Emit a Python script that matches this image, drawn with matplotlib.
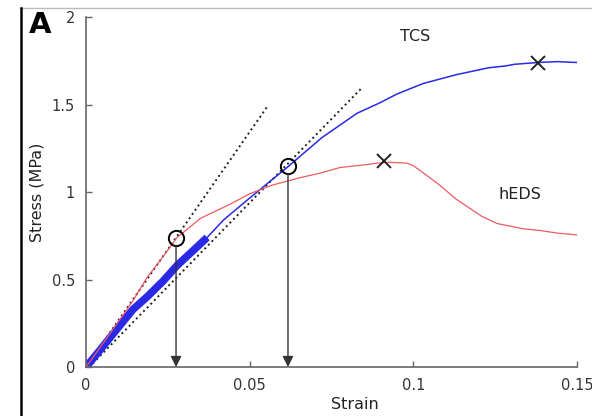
import numpy as np
import matplotlib.pyplot as plt
from matplotlib.lines import Line2D

# TCS curve (blue)
strain_tcs = [0, 0.004, 0.0083, 0.0144, 0.0186, 0.0235, 0.0278, 0.033, 0.037, 0.042, 0.049,
              0.0555, 0.0614, 0.072, 0.0828, 0.0898, 0.095, 0.103, 0.108, 0.113, 0.118,
              0.123, 0.128, 0.131, 0.138, 0.144, 0.15]
stress_tcs = [0, 0.09, 0.19, 0.33, 0.40, 0.49, 0.58, 0.67, 0.74, 0.84, 0.95,
              1.05, 1.14, 1.31, 1.45, 1.51, 1.56, 1.62, 1.645, 1.67, 1.69,
              1.71, 1.72, 1.73, 1.74, 1.745, 1.74]

# hEDS curve (red)
strain_heds = [0, 0.005, 0.0144, 0.0186, 0.0235, 0.0278, 0.035, 0.044, 0.050, 0.057,
               0.065, 0.072, 0.0776, 0.085, 0.089, 0.092, 0.098, 0.100, 0.103, 0.108,
               0.113, 0.117, 0.121, 0.1256, 0.1335, 0.1387, 0.144, 0.15]
stress_heds = [0, 0.13, 0.38, 0.51, 0.63, 0.74, 0.85, 0.93, 0.99, 1.04,
               1.08, 1.11, 1.14, 1.155, 1.165, 1.17, 1.165, 1.15, 1.11, 1.04,
               0.96, 0.91, 0.86, 0.82, 0.79, 0.78, 0.765, 0.755]

# tangent (dotted) lines
tan1_x = [0, 0.0553]
tan1_y = [0, 1.486]
tan2_x = [0.001, 0.084]
tan2_y = [0, 1.59]

# yield points (circles) and failure points (crosses)
yield_x = [0.0275, 0.0617]
yield_y = [0.74, 1.15]
fail_x = [0.138, 0.091]
fail_y = [1.74, 1.18]

fig = plt.figure(figsize=(5.92, 4.16), dpi=100)
ax = fig.add_axes([0.1453, 0.1178, 0.8294, 0.8413])

ax.plot(tan1_x, tan1_y, ':', color='#222222', lw=1.4)
ax.plot(tan2_x, tan2_y, ':', color='#222222', lw=1.4)

# thick noisy start of the TCS curve
ax.plot(strain_tcs[:9], stress_tcs[:9], color='#2a2ae6', lw=5.5, solid_capstyle='butt')
ax.plot(strain_tcs, stress_tcs, color='#2a2ae6', lw=1.1)
ax.plot(strain_heds, stress_heds, color='#ec5a63', lw=0.9)

for x, y in zip(yield_x, yield_y):
    ax.annotate('', xy=(x, 0), xytext=(x, y - 0.045),
                arrowprops=dict(arrowstyle='-|>', color='#333333', lw=1,
                                mutation_scale=16, shrinkA=0, shrinkB=0))
ax.plot(yield_x, yield_y, 'o', mfc='none', mec='black', ms=11, mew=1.4)
ax.plot(fail_x, fail_y, 'x', color='#222222', ms=10, mew=1.4)

ax.text(0.1005, 1.886, 'TCS', fontsize=11.5, ha='center', va='center', color='#222222')
ax.text(0.1326, 0.983, 'hEDS', fontsize=11.5, ha='center', va='center', color='#222222')

ax.set_xlim(0, 0.15)
ax.set_ylim(0, 2)
ax.set_xticks([0, 0.05, 0.1, 0.15])
ax.set_xticklabels(['0', '0.05', '0.1', '0.15'])
ax.set_yticks([0, 0.5, 1, 1.5, 2])
ax.set_yticklabels(['0', '0.5', '1', '1.5', '2'])
for s in ['top', 'right']:
    ax.spines[s].set_visible(False)
for s in ['left', 'bottom']:
    ax.spines[s].set_color('#666666')
    ax.spines[s].set_linewidth(1.2)
ax.tick_params(direction='in', length=4, width=1, color='#666666',
               labelsize=10.5, labelcolor='#333333', pad=8)
ax.set_xlabel('Strain', fontsize=11.5, color='#222222')
ax.set_ylabel('Stress (MPa)', fontsize=11.5, color='#222222')
ax.xaxis.set_label_coords(0.548, -0.085)
ax.yaxis.set_label_coords(-0.085, 0.5)

fig.text(0.068, 0.94, 'A', fontsize=21, fontweight='bold', ha='center', va='center')
fig.add_artist(Line2D([20 / 592, 1], [1 - 8 / 416, 1 - 8 / 416], color='#bbbbbb', lw=1))
fig.add_artist(Line2D([21 / 592, 21 / 592], [0, 1 - 8 / 416], color='black', lw=1.8))

fig.savefig('out.png', dpi=100)
